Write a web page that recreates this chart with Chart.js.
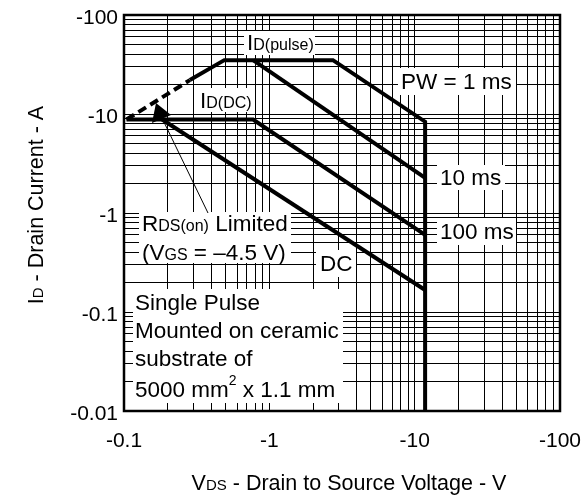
<!DOCTYPE html>
<html>
<head>
<meta charset="utf-8">
<script src="https://cdn.jsdelivr.net/npm/chart.js@4.4.1/dist/chart.umd.min.js"></script>
<style>
html, body { margin: 0; padding: 0; background: #fff; }
</style>
</head>
<body>
<canvas id="soaChart" width="584" height="497"></canvas>
<script>
// values, as magnitudes (the axes print them negative)
var pulseDashV = [0.104, 0.284];
var pulseDashI = [8.8, 22];
var pw1msV = [0.284, 0.49, 2.74, 11.8, 11.8];
var pw1msI = [22, 35, 35, 8.36, 0.01];
var pw10msV = [0.773, 11.8];
var pw10msI = [35, 2.26];
var pw100msV = [0.104, 0.773, 11.8];
var pw100msI = [8.8, 8.8, 0.6];
var dcV = [0.183, 11.8];
var dcI = [8.8, 0.167];

var xTickValues = [0.1, 1, 10, 100];
var xTickLabels = ['-0.1', '-1', '-10', '-100'];
var yTickValues = [0.01, 0.1, 1, 10, 100];
var yTickLabels = ['-0.01', '-0.1', '-1', '-10', '-100'];

var FONT = '"Liberation Sans", Arial, sans-serif';

function points(vs, is) {
    return vs.map(function (v, i) { return { x: v, y: is[i] }; });
}

// 1..9 per decade, so the grid is drawn like on log paper
function decadeTicks(majors) {
    var out = [];
    for (var i = 0; i < majors.length - 1; i++) {
        for (var k = 1; k < 10; k++) out.push({ value: majors[i] * k });
    }
    out.push({ value: majors[majors.length - 1] });
    return out;
}

function labelFor(values, labels, v) {
    for (var i = 0; i < values.length; i++) {
        if (Math.abs(values[i] - v) < values[i] * 1e-6) return labels[i];
    }
    return '';
}

function rich(ctx, x, y, parts) {
    parts.forEach(function (p) {
        ctx.font = p[1] + 'px ' + FONT;
        ctx.fillText(p[0], x, y + (p[2] || 0));
        x += ctx.measureText(p[0]).width;
    });
}

function richWidth(ctx, parts) {
    var w = 0;
    parts.forEach(function (p) {
        ctx.font = p[1] + 'px ' + FONT;
        w += ctx.measureText(p[0]).width;
    });
    return w;
}

var BIG = 22.5, SMALL = 16;

var notes = [
    { box: [244, 31, 315, 55], x: 247, lines: [[['I', BIG], ['D(pulse)', SMALL]]], y: [50] },
    { box: [197, 88, 254, 112], x: 200, lines: [[['I', BIG], ['D(DC)', SMALL]]], y: [108] },
    { box: [398, 68, 516, 95], x: 401, lines: [[['PW = 1 ms', BIG]]], y: [89] },
    { box: [437, 165, 505, 190], x: 440, lines: [[['10 ms', BIG]]], y: [185] },
    { box: [437, 218, 516, 245], x: 440, lines: [[['100 ms', BIG]]], y: [239] },
    { box: [316, 250, 356, 277], x: 320, lines: [[['DC', BIG]]], y: [271] },
    { box: [139, 212, 291, 263], x: 142,
      lines: [[['R', BIG], ['DS(on)', SMALL], [' Limited', BIG]],
              [['(V', BIG], ['GS', SMALL], [' = \u20134.5 V)', BIG]]],
      y: [231, 260] },
    { box: [133, 289, 343, 403], x: 135,
      lines: [[['Single Pulse', BIG]],
              [['Mounted on ceramic', BIG]],
              [['substrate of', BIG]],
              [['5000 mm', BIG], ['2', 14, -12], [' x 1.1 mm', BIG]]],
      y: [310, 338, 366, 397] }
];

var notesPlugin = {
    id: 'notes',
    beforeDatasetsDraw: function (chart) {
        var ctx = chart.ctx;
        ctx.save();
        notes.forEach(function (n) {
            ctx.fillStyle = '#fff';
            ctx.fillRect(n.box[0], n.box[1], n.box[2] - n.box[0], n.box[3] - n.box[1]);
            ctx.fillStyle = '#000';
            ctx.textBaseline = 'alphabetic';
            n.lines.forEach(function (line, i) { rich(ctx, n.x, n.y[i], line); });
        });
        ctx.restore();
    },
    afterDatasetsDraw: function (chart) {
        var ctx = chart.ctx;
        var a = chart.chartArea;
        ctx.save();
        // pointer from the RDS(on) note to the dashed limit line
        ctx.strokeStyle = '#000';
        ctx.lineWidth = 1;
        ctx.beginPath();
        ctx.moveTo(208, 213);
        ctx.lineTo(162, 118);
        ctx.stroke();
        ctx.fillStyle = '#000';
        ctx.beginPath();
        ctx.moveTo(156, 103);
        ctx.lineTo(152, 123);
        ctx.lineTo(171, 115);
        ctx.closePath();
        ctx.fill();
        // frame
        ctx.lineWidth = 2.5;
        ctx.strokeRect(a.left, a.top, a.right - a.left, a.bottom - a.top);
        ctx.restore();
    },
    afterDraw: function (chart) {
        var ctx = chart.ctx;
        ctx.save();
        ctx.fillStyle = '#000';
        ctx.textBaseline = 'alphabetic';
        var xt = [['V', 21.5], ['DS', 15], [' - Drain to Source Voltage - V', 21.5]];
        rich(ctx, 349 - richWidth(ctx, xt) / 2, 490, xt);
        var yt = [['I', 21.5], ['D', 15], [' - Drain Current - A', 21.5]];
        ctx.translate(43, 205);
        ctx.rotate(-Math.PI / 2);
        rich(ctx, -richWidth(ctx, yt) / 2, 0, yt);
        ctx.restore();
    }
};

function line(vs, is, dash) {
    return {
        data: points(vs, is),
        borderColor: '#000',
        borderWidth: 4,
        borderDash: dash || [],
        borderJoinStyle: 'miter',
        pointRadius: 0,
        fill: false,
        tension: 0
    };
}

var ctx = document.getElementById('soaChart').getContext('2d');
new Chart(ctx, {
    type: 'line',
    data: {
        datasets: [
            line(pulseDashV, pulseDashI, [9, 5]),
            line(pw1msV, pw1msI),
            line(pw10msV, pw10msI),
            line(pw100msV, pw100msI),
            line(dcV, dcI)
        ]
    },
    options: {
        responsive: false,
        animation: false,
        layout: { padding: { left: 0, top: 15, right: 24, bottom: 0 } },
        plugins: { legend: { display: false }, tooltip: { enabled: false } },
        scales: {
            x: {
                type: 'logarithmic',
                min: 0.1,
                max: 100,
                afterBuildTicks: function (s) { s.ticks = decadeTicks(xTickValues); },
                afterFit: function (s) { s.height = 86; s.paddingLeft = 0; s.paddingRight = 0; },
                grid: { color: '#000', lineWidth: 1, drawTicks: false },
                border: { display: false },
                ticks: {
                    autoSkip: false,
                    maxRotation: 0,
                    padding: 18,
                    color: '#000',
                    font: { family: FONT, size: 21 },
                    callback: function (v) { return labelFor(xTickValues, xTickLabels, v); }
                }
            },
            y: {
                type: 'logarithmic',
                min: 0.01,
                max: 100,
                afterBuildTicks: function (s) { s.ticks = decadeTicks(yTickValues); },
                afterFit: function (s) { s.width = 124; s.paddingTop = 0; s.paddingBottom = 0; },
                grid: { color: '#000', lineWidth: 1, drawTicks: false },
                border: { display: false },
                ticks: {
                    autoSkip: false,
                    padding: 6,
                    labelOffset: 3,
                    color: '#000',
                    font: { family: FONT, size: 21 },
                    callback: function (v) { return labelFor(yTickValues, yTickLabels, v); }
                }
            }
        }
    },
    plugins: [notesPlugin]
});
</script>
</body>
</html>
